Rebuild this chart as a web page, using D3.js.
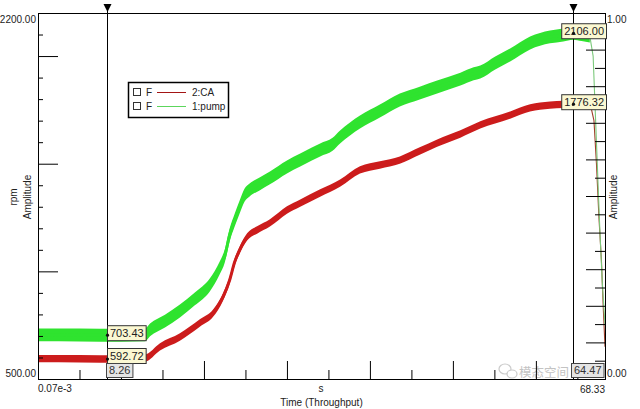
<!DOCTYPE html>
<html><head><meta charset="utf-8">
<script src="https://cdn.jsdelivr.net/npm/d3@7"></script>
<style>
html,body{margin:0;padding:0;background:#fff;}
svg{display:block;font-family:"Liberation Sans",Arial,sans-serif;}
</style></head>
<body>
<svg id="c" width="640" height="409"></svg>
<script>
// ---- data ----
const pumpTime = [0, 5, 10, 12.9, 13.5, 15.3, 17.1, 18.9, 20.7, 21.9, 22.5, 23.1, 23.7, 24.3, 24.9, 25.5, 26.7, 27.95, 30, 31.6, 33.0, 34, 35.5, 36.4, 38.8, 41.2, 43.6, 46, 48.1, 50.9, 52.5, 53.3, 55.1, 56.9, 59.3, 61.7, 63.3, 64.47, 65.5, 66.5, 66.9, 67.1, 67.4, 67.7, 68.0, 68.33];
const pumpRpm  = [705, 704, 703, 705, 728, 769, 816, 872, 937, 1016, 1070, 1170, 1238, 1299, 1355, 1378, 1406, 1434, 1485, 1517, 1545, 1564, 1590, 1624, 1694, 1745, 1796, 1828, 1856, 1893, 1918, 1926, 1968, 2005, 2061, 2089, 2098, 2106, 2100, 2093, 2000, 1800, 1500, 1200, 950, 750];
const caTime = [0, 5, 10, 12.9, 14.7, 17.1, 19.5, 21.1, 22.3, 23.1, 23.7, 24.3, 25.2, 26.4, 27.95, 30, 31.6, 34, 36.4, 38.8, 41.2, 43.6, 46, 48.1, 50.9, 53.3, 56.9, 59.3, 61.7, 63.3, 64.47, 65.5, 66.6, 67.0, 67.3, 67.6, 67.9, 68.1, 68.33];
const caRpm  = [595, 594, 593, 597, 649, 695, 760, 806, 881, 960, 1043, 1099, 1160, 1192, 1225, 1285, 1317, 1364, 1410, 1471, 1494, 1517, 1559, 1596, 1638, 1680, 1726, 1759, 1772, 1776, 1776, 1774, 1770, 1700, 1500, 1250, 1050, 850, 650];
const tailStart = [66.5, 66.6];           // pump, CA : where the thin run-down starts
const seriesNames = ["2:CA", "1:pump"];
const cursorTimes = [8.26, 64.47];
const cursorTimeLabels = ["8.26", "64.47"];
const pumpAtCursor = ["703.43", "2106.00"];
const caAtCursor = ["592.72", "1776.32"];
const pumpAtCursorV = [703.43, 2106.00];
const caAtCursorV = [592.72, 1776.32];
const xDomain = [0.07e-3, 68.33];
const xEndLabels = ["0.07e-3", "68.33"];
const rpmDomain = [500, 2200];
const rpmEndLabels = ["2200.00", "500.00"];
const ampEndLabels = ["1.00", "0.00"];
const xMajorTicks = [10, 20, 30, 40, 50, 60];
const xMinorTicks = [5, 15, 25, 35, 45, 55, 65];
const rpmMinorTicks = [600, 700, 800, 900, 1100, 1200, 1300, 1400, 1600, 1700, 1800, 1900, 2100];
const rpmMajorTicks = [1000, 1500, 2000];
const ampMajorTicks = [0.1, 0.2, 0.3, 0.4, 0.5, 0.6, 0.7, 0.8, 0.9];
const ampMinorTicks = [0.05, 0.15, 0.25, 0.35, 0.45, 0.55, 0.65, 0.75, 0.85, 0.95];

// ---- layout ----
const L = 38, R = 605, T = 13, B = 379;
const svg = d3.select("#c");
const x = d3.scaleLinear().domain(xDomain).range([L, R]);
const y = d3.scaleLinear().domain(rpmDomain).range([B, T]);
const amp = d3.scaleLinear().domain([0, 1]).range([B, T]);

const GREEN = "#2fe32f", RED = "#cc1c1c";

svg.append("defs").append("clipPath").attr("id", "clip")
  .append("rect").attr("x", L).attr("y", T).attr("width", R - L).attr("height", B - T);

// ---- watermark (behind everything) ----
const wm = svg.append("g").attr("opacity", 0.5);
wm.append("ellipse").attr("cx", 505).attr("cy", 369).attr("rx", 6).attr("ry", 5).attr("fill", "none").attr("stroke", "#999").attr("stroke-width", 1.2);
wm.append("ellipse").attr("cx", 512).attr("cy", 374).attr("rx", 5).attr("ry", 4).attr("fill", "#fff").attr("stroke", "#999").attr("stroke-width", 1.2);
wm.append("text").attr("x", 519).attr("y", 377).attr("font-size", 12.5)
  .attr("font-family", "Noto Sans CJK SC").attr("fill", "#888").text("模态空间");

const plot = svg.append("g").attr("clip-path", "url(#clip)");
const curve = d3.curveMonotoneX;

function drawSeries(times, vals, tail, color, halfBand, tailColor) {
  const pts = times.map((t, i) => ({t, v: vals[i]}));
  const main = pts.filter(p => p.t <= tail);
  const rest = pts.filter(p => p.t >= tail);
  plot.append("path").datum(main)
    .attr("d", d3.area().curve(curve).x(p => x(p.t)).y0(p => y(p.v - halfBand)).y1(p => y(p.v + halfBand)))
    .attr("fill", color);
  plot.append("path").datum(main)
    .attr("d", d3.line().curve(curve).x(p => x(p.t)).y(p => y(p.v)))
    .attr("fill", "none").attr("stroke", color).attr("stroke-width", 3).attr("stroke-linejoin", "round");
  plot.append("path").datum(rest)
    .attr("d", d3.line().x(p => x(p.t)).y(p => y(p.v)))
    .attr("fill", "none").attr("stroke", tailColor).attr("stroke-width", 1.1);
}
drawSeries(caTime, caRpm, tailStart[1], RED, 17, "#a0402a");
drawSeries(pumpTime, pumpRpm, tailStart[0], GREEN, 30, "#7cc97c");

// ---- axes ----
function clean(g) { g.select(".domain").remove(); g.selectAll("line").attr("stroke", "#000"); }
svg.append("g").attr("transform", `translate(${L},0)`)
  .call(d3.axisLeft(y).tickValues(rpmMinorTicks).tickSize(-5).tickFormat("")).call(clean);
svg.append("g").attr("transform", `translate(${L},0)`)
  .call(d3.axisLeft(y).tickValues(rpmMajorTicks).tickSize(-20).tickFormat("")).call(clean);
svg.append("g").attr("transform", `translate(0,${B})`)
  .call(d3.axisBottom(x).tickValues(xMajorTicks).tickSize(-18).tickFormat("")).call(clean);
svg.append("g").attr("transform", `translate(0,${B})`)
  .call(d3.axisBottom(x).tickValues(xMinorTicks).tickSize(-9).tickFormat("")).call(clean);
svg.append("g").attr("transform", `translate(${R},0)`)
  .call(d3.axisRight(amp).tickValues(ampMajorTicks).tickSize(-19).tickFormat("")).call(clean);
svg.append("g").attr("transform", `translate(${R},0)`)
  .call(d3.axisRight(amp).tickValues(ampMinorTicks).tickSize(-10).tickFormat("")).call(clean);

svg.append("rect").attr("x", L + 0.5).attr("y", T + 0.5).attr("width", R - L).attr("height", B - T)
  .attr("fill", "none").attr("stroke", "#000");

const fs = 10;
const txt = (xx, yy, s, anchor) => svg.append("text").attr("x", xx).attr("y", yy).text(s)
    .attr("font-size", fs).attr("fill", "#222").attr("text-anchor", anchor || "start");
txt(36, y(rpmDomain[1]) + 10, rpmEndLabels[0], "end");
txt(36, y(rpmDomain[0]) - 2, rpmEndLabels[1], "end");
txt(607, amp(1) + 10, ampEndLabels[0], "start");
txt(607, amp(0) - 2, ampEndLabels[1], "start");
txt(x(xDomain[0]), 392, xEndLabels[0], "start");
txt(x(xDomain[1]), 393, xEndLabels[1], "end");
txt((L + R) / 2 - 0.5, 392, "s", "middle");
txt((L + R) / 2, 406, "Time (Throughput)", "middle");
txt(0, 0, "rpm", "middle").attr("transform", `translate(17,197) rotate(-90)`);
txt(0, 0, "Amplitude", "middle").attr("transform", `translate(31,197) rotate(-90)`);
txt(0, 0, "Amplitude", "middle").attr("transform", `translate(617,197) rotate(-90)`);

// ---- cursors ----
cursorTimes.forEach((ct, i) => {
  const cx = Math.round(x(ct)) + 0.5;
  svg.append("line").attr("x1", cx).attr("x2", cx).attr("y1", 4).attr("y2", B).attr("stroke", "#000");
  svg.append("path").attr("d", `M${cx - 4},4 L${cx + 4},4 L${cx},12 Z`).attr("fill", "#000");
});

function valueBox(cx, vy, label, boxTop) {
  const g = svg.append("g");
  const t = g.append("text").attr("font-size", 11).attr("fill", "#222").text(label);
  const w = t.node().getComputedTextLength() + 5;
  const bx = Math.min(cx, R + 1 - w);
  const h = 15;
  g.insert("rect", "text").attr("x", bx + 0.5).attr("y", boxTop + 0.5).attr("width", w).attr("height", h)
    .attr("fill", "#fbf8d2").attr("stroke", "#333");
  t.attr("x", bx + 3).attr("y", boxTop + 11.5);
  g.append("circle").attr("cx", cx + 0.5).attr("cy", vy).attr("r", 1.6).attr("fill", "#111");
}
{
  const cx = Math.round(x(cursorTimes[0]));
  const yb = B - 16;
  valueBox(cx, y(pumpAtCursorV[0]), pumpAtCursor[0], Math.min(y(pumpAtCursorV[0]) - 10, yb - 32));
  valueBox(cx, y(caAtCursorV[0]), caAtCursor[0], Math.min(y(caAtCursorV[0]) - 7, yb - 15));
}
{
  const cx = Math.round(x(cursorTimes[1]));
  valueBox(cx, y(pumpAtCursorV[1]), pumpAtCursor[1], y(pumpAtCursorV[1]) - 10);
  valueBox(cx, y(caAtCursorV[1]), caAtCursor[1], y(caAtCursorV[1]) - 10);
}
cursorTimes.forEach((ct, i) => {
  const cx = Math.round(x(ct));
  const g = svg.append("g");
  const t = g.append("text").attr("font-size", 11).attr("fill", "#333").text(cursorTimeLabels[i]);
  const w = t.node().getComputedTextLength() + 5;
  const bx = i === 0 ? cx - 1 : cx - 2;
  g.insert("rect", "text").attr("x", bx + 0.5).attr("y", B - 16 + 0.5).attr("width", w).attr("height", 14)
    .attr("fill", "#e4e4e4").attr("stroke", "#444");
  t.attr("x", bx + 3).attr("y", B - 5);
});

// ---- legend ----
const lg = svg.append("g");
lg.append("rect").attr("x", 128.5).attr("y", 82.5).attr("width", 100).attr("height", 35)
  .attr("fill", "#fff").attr("stroke", "#000").attr("stroke-width", 1.5);
const legColors = ["#a31515", "#5cd65c"];
seriesNames.forEach((n, i) => {
  const ly = 92 + i * 14;
  lg.append("rect").attr("x", 133.5).attr("y", ly - 3.5).attr("width", 7).attr("height", 7)
    .attr("fill", "#fff").attr("stroke", "#333");
  lg.append("text").attr("x", 146).attr("y", ly + 3.5).attr("font-size", fs).attr("fill", "#222").text("F");
  lg.append("line").attr("x1", 157).attr("x2", 186).attr("y1", ly + 0.5).attr("y2", ly + 0.5)
    .attr("stroke", legColors[i]).attr("stroke-width", 1);
  lg.append("text").attr("x", 192).attr("y", ly + 3.5).attr("font-size", fs).attr("fill", "#222").text(n);
});
</script>
</body></html>
